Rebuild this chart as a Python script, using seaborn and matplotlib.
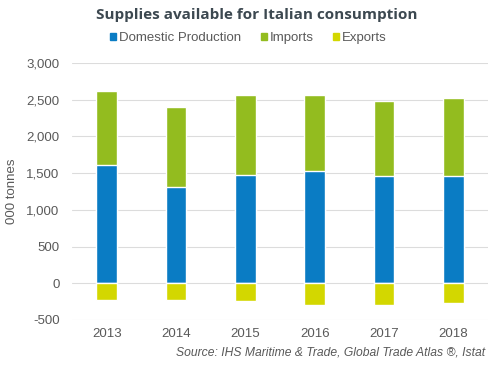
import pandas as pd
import seaborn as sns
import matplotlib.pyplot as plt
from matplotlib.patches import Patch

# values (000 tonnes)
years = ['2013', '2014', '2015', '2016', '2017', '2018']
domestic = [1615, 1310, 1475, 1530, 1460, 1460]
imports = [1005, 1090, 1090, 1035, 1025, 1065]
exports = [-225, -225, -245, -290, -290, -265]

blue = '#0a7cc4'
green = '#93bc1f'
yellow = '#d3d700'
grey = '#595959'

df = pd.DataFrame({'Year': years, 'Domestic': domestic, 'Imports': imports, 'Exports': exports})
df['Total'] = df['Domestic'] + df['Imports']

sns.set_style('white')
plt.rcParams['font.family'] = ['Liberation Sans', 'DejaVu Sans']

fig = plt.figure(figsize=(5, 3.69), dpi=100)
ax = fig.add_axes([0.144, 0.133, 0.832, 0.696])

# stacked bars: totals underneath, domestic on top, exports below zero
sns.barplot(data=df, x='Year', y='Total', color=green, width=0.3, saturation=1, ax=ax, zorder=2)
sns.barplot(data=df, x='Year', y='Domestic', color=blue, width=0.3, saturation=1, ax=ax, zorder=3)
sns.barplot(data=df, x='Year', y='Exports', color=yellow, width=0.3, saturation=1, ax=ax, zorder=3)

ax.set_xlim(-0.5, 5.5)
ax.set_ylim(-500, 3000)
ax.set_yticks(range(-500, 3001, 500))
ax.set_yticklabels([f'{v:,}' for v in range(-500, 3001, 500)])
ax.yaxis.grid(True, color='#dcdcdc', linewidth=0.8, zorder=0)
ax.set_axisbelow(True)
for s in ax.spines.values():
    s.set_visible(False)
ax.tick_params(axis='both', length=0, labelsize=9.5, labelcolor=grey)
ax.tick_params(axis='y', pad=9)
ax.tick_params(axis='x', pad=6)
ax.set_xlabel('')
ax.set_ylabel('000 tonnes', fontsize=9.5, color=grey, labelpad=6)

fig.text(0.514, 0.958, 'Supplies available for Italian consumption', ha='center', va='center',
         fontsize=11, fontweight='bold', color='#3c4850', family=['Open Sans', 'DejaVu Sans'])

handles = [Patch(color=blue, label='Domestic Production'),
           Patch(color=green, label='Imports'),
           Patch(color=yellow, label='Exports')]
fig.legend(handles=handles, loc='center', bbox_to_anchor=(0.497, 0.897), ncol=3, frameon=False,
           fontsize=9.5, labelcolor=grey, handlelength=0.45, handleheight=0.45,
           handletextpad=0.2, columnspacing=1.5)

fig.text(0.97, 0.045, 'Source: IHS Maritime & Trade, Global Trade Atlas \u00ae, Istat', ha='right',
         va='center', fontsize=8.7, style='italic', color=grey)

fig.savefig('out.png', dpi=100)
